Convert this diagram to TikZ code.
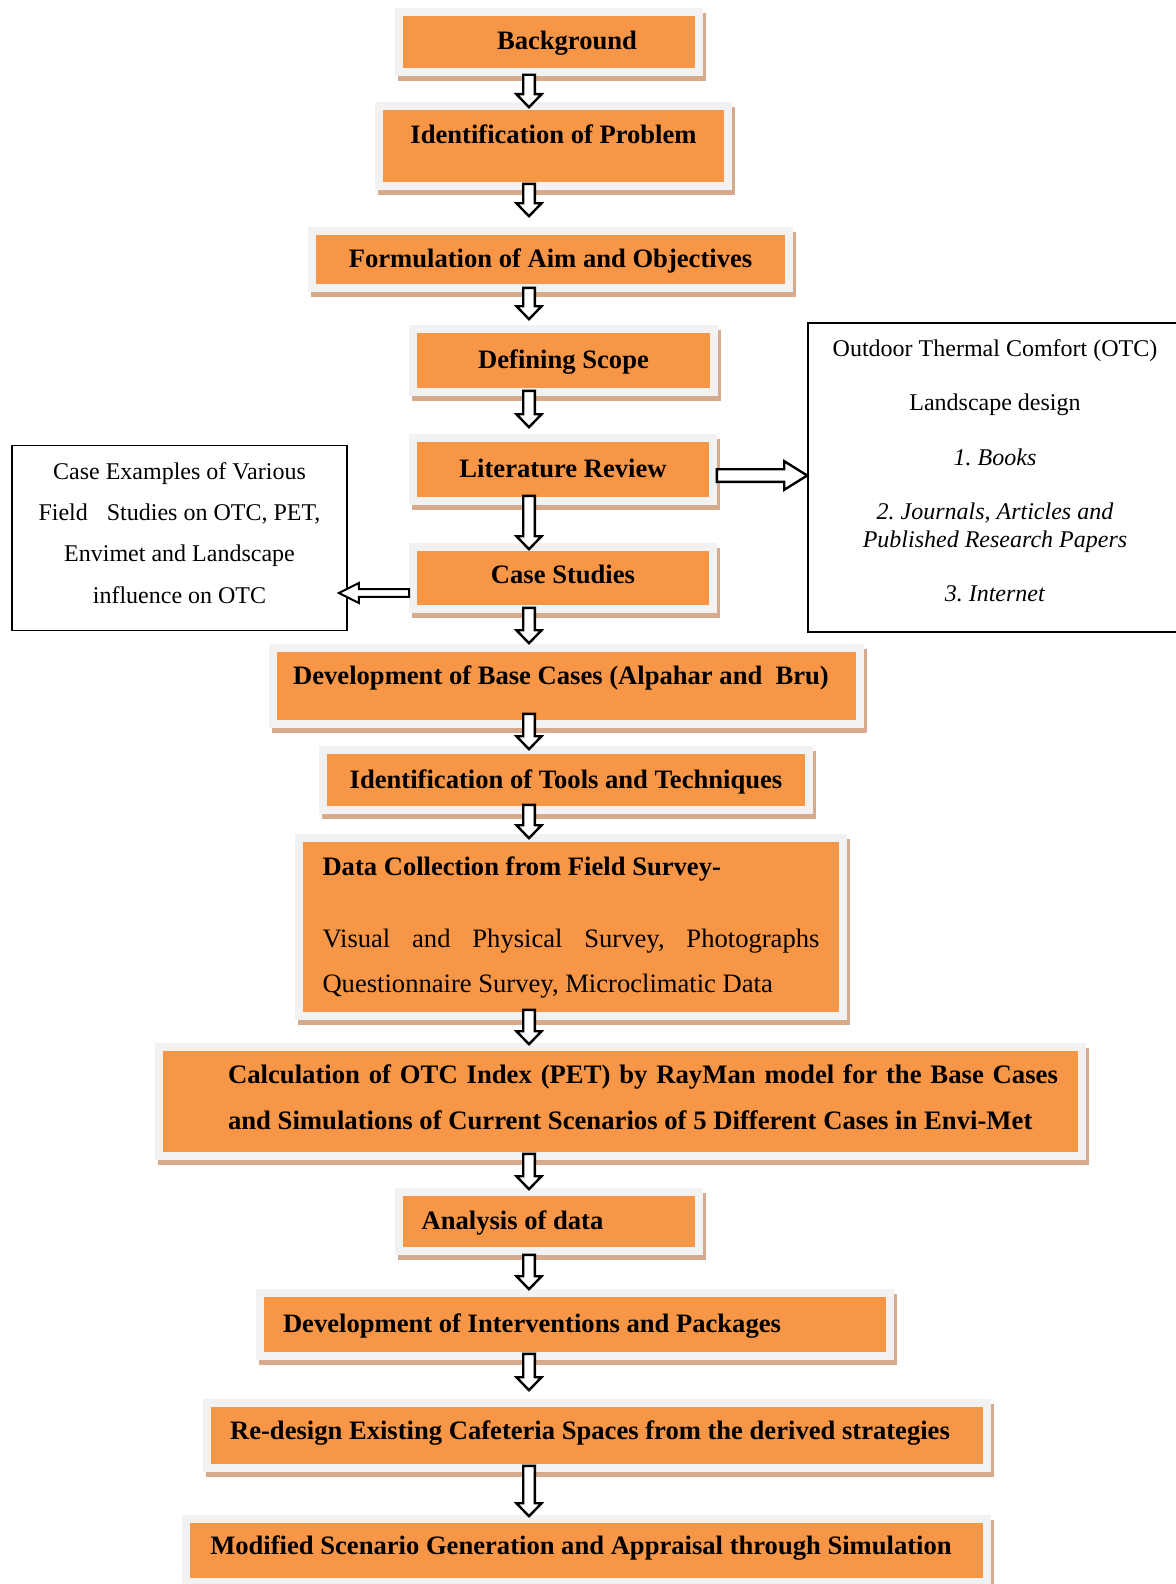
\documentclass[tikz,border=0pt]{standalone}
\usepackage{fontspec}
\setmainfont{Liberation Serif}
\usepackage{xcolor}
\usetikzlibrary{calc}
\frenchspacing
\definecolor{boxorange}{RGB}{247,150,70}
\definecolor{framegray}{RGB}{242,242,242}
\definecolor{shadowtan}{RGB}{214,170,140}
\tikzset{boxlook/.style={rectangle,inner sep=0pt,fill=boxorange,draw=framegray,line width=3.8pt,
           preaction={fill=shadowtan,draw=shadowtan,transform canvas={shift={(1.6pt,-2.6pt)}}}},
         stepbox/.style={boxlook,font=\bfseries\fontsize{13.3}{16}\selectfont,text height=11pt,text depth=3pt},
         widebox/.style={boxlook,font=\fontsize{13.3}{22.5}\selectfont,align=justify},
         notebox/.style={rectangle,inner sep=0pt,draw=black,line width=0.8pt,fill=white,align=center},
         hollow/.style n args={3}{draw=black,fill=white,line width=1.2pt,line join=miter,
           to path={let \p1=(\tikztostart),\p2=(\tikztotarget),\p3=($(\p2)!#3!(\p1)$) in
             ($(\p1)!#1!90:(\p2)$) -- ($(\p3)!#1!-90:(\p1)$) -- ($(\p3)!#2!-90:(\p1)$) -- (\p2)
             -- ($(\p3)!#2!90:(\p1)$) -- ($(\p3)!#1!90:(\p1)$) -- ($(\p1)!#1!-90:(\p2)$) -- cycle}},
         }
\begin{document}
\begin{tikzpicture}[x=0.5pt,y=-0.5pt,
    vdown/.style={hollow={2.9pt}{6.3pt}{6.5pt}}]
\useasboundingbox (0,0) rectangle (1176,1584);
\coordinate (spine) at (529,0);
\node[stepbox,minimum width=150pt,minimum height=30pt] (bg) at (549,42) {\hspace*{18pt}Background};
\node[stepbox,minimum width=174.5pt,minimum height=40pt,text depth=14pt] (idp) at (553.5,146) {Identification of Problem};
\node[stepbox,minimum width=238.5pt,minimum height=28.5pt] (aim) at (550.5,259.5) {Formulation of Aim and Objectives};
\node[stepbox,minimum width=150.5pt,minimum height=31.5pt] (scope) at (563.5,360.5) {Defining Scope};
\node[stepbox,minimum width=150pt,minimum height=31.5pt] (lit) at (563,469.5) {Literature Review};
\node[stepbox,minimum width=150pt,minimum height=31pt,text depth=6pt] (cs) at (563,578) {Case Studies};
\node[stepbox,minimum width=293.5pt,minimum height=38pt,text depth=13pt] (base) at (566.5,686) {Development of Base Cases (Alpahar and\ \ Bru)\hspace*{5.5pt}};
\node[stepbox,minimum width=243pt,minimum height=30pt] (tools) at (566,780) {Identification of Tools and Techniques};
\node[widebox,text width=248.5pt,minimum width=272pt,minimum height=89pt] (dc) at (571,927)
  {\textbf{Data Collection from Field Survey-}\\[13.5pt]
   Visual and Physical Survey, Photographs\linebreak Questionnaire Survey, Microclimatic Data};
\node[boxlook,font=\bfseries\fontsize{13.35}{23}\selectfont,minimum width=461.5pt,minimum height=54.5pt] (rayman) at (620.5,1101.5)
  {\hspace*{22.5pt}\begin{minipage}{415pt}Calculation of OTC Index (PET) by RayMan model for the Base Cases and Simulations of Current Scenarios of 5 Different Cases in Envi-Met\par\vspace*{4.7pt}\end{minipage}};
\node[stepbox,minimum width=150pt,minimum height=29.5pt] (ana) at (549,1221.5) {Analysis of data\hspace*{36.5pt}};
\node[stepbox,minimum width=315pt,minimum height=31.5pt] (intv) at (575,1324.5) {Development of Interventions and Packages\hspace*{43pt}};
\node[stepbox,minimum width=390pt,minimum height=32.5pt,text depth=7pt] (redes) at (597,1435.5) {Re-design Existing Cafeteria Spaces from the derived strategies\hspace*{7pt}};
\node[stepbox,minimum width=400.5pt,minimum height=31.5pt,text depth=7pt] (mod) at (586.5,1550.5) {Modified Scenario Generation and Appraisal through Simulation\hspace*{5.5pt}};
\node[notebox,font=\fontsize{12}{20.7}\selectfont,minimum width=167.5pt,minimum height=92.5pt,text depth=5.2pt] (cex) at (179.5,538)
  {Case Examples of Various\\ Field\hspace{9.5pt}Studies on OTC, PET,\\ Envimet and Landscape\\ influence on OTC};
\node[notebox,font=\fontsize{12}{13.75}\selectfont,minimum width=187pt,minimum height=154.5pt,text depth=6.75pt] (otc) at (995,477.5)
  {Outdoor Thermal Comfort (OTC)\\[13.5pt] Landscape design\\[13.5pt] \textit{1. Books}\\[13.5pt]
   \textit{2. Journals, Articles and}\\ \textit{Published Research Papers}\\[13.5pt] \textit{3. Internet}};
\draw[vdown] ($(bg.south -| spine)+(0,-1)$) to ($(idp.north -| spine)+(0,5)$);
\draw[vdown] ($(idp.south -| spine)+(0,-6)$) to ($(aim.north -| spine)+(0,-11)$);
\draw[vdown] ($(aim.south -| spine)+(0,-4)$) to ($(scope.north -| spine)+(0,-6)$);
\draw[vdown] ($(scope.south -| spine)+(0,-5)$) to ($(lit.north -| spine)+(0,-7)$);
\draw[vdown] ($(lit.south -| spine)+(0,-9)$) to ($(cs.north -| spine)+(0,6)$);
\draw[vdown] ($(cs.south -| spine)+(0,-5)$) to ($(base.north -| spine)+(0,-1)$);
\draw[vdown] ($(base.south -| spine)+(0,-14)$) to ($(tools.north -| spine)+(0,3)$);
\draw[vdown] ($(tools.south -| spine)+(0,-9)$) to ($(dc.north -| spine)+(0,4)$);
\draw[vdown] ($(dc.south -| spine)+(0,-10)$) to ($(rayman.north -| spine)+(0,1)$);
\draw[vdown] ($(rayman.south -| spine)+(0,-6)$) to ($(ana.north -| spine)+(0,1)$);
\draw[vdown] (ana.south -| spine) to (intv.north -| spine);
\draw[vdown] ($(intv.south -| spine)+(0,-6)$) to ($(redes.north -| spine)+(0,-9)$);
\draw[vdown] ($(redes.south -| spine)+(0,-6)$) to ($(mod.north -| spine)+(0,1)$);
\coordinate (litout) at ([yshift=-3pt]lit.east);
\draw[hollow={3.15pt}{7.15pt}{11.5pt}] (litout) to (litout -| otc.west);
\coordinate (csout) at ([yshift=-7.5pt]cs.west);
\draw[hollow={1.9pt}{5pt}{10pt},line width=1pt] (csout) to ($(csout -| cex.east)+(-4.5pt,0)$);
\end{tikzpicture}
\end{document}
